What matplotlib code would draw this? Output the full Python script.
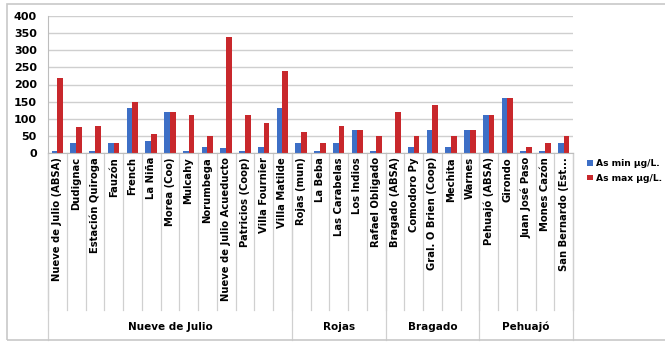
import matplotlib
matplotlib.use("Agg")
import matplotlib.pyplot as plt
import numpy as np
from matplotlib.patches import Rectangle

# Arsenic levels by locality, grouped by district
localities = ["Nueve de Julio (ABSA)", "Dudignac", "Estación Quiroga", "Fauzón", "French",
              "La Niña", "Morea (Coo)", "Mulcahy", "Norumbega", "Nueve de Julio Acueducto",
              "Patricios (Coop)", "Villa Fournier", "Villa Matilde",
              "Rojas (mun)", "La Beba", "Las Carabelas", "Los Indios", "Rafael Obligado",
              "Bragado (ABSA)", "Comodoro Py", "Gral. O Brien (Coop)", "Mechita", "Warnes",
              "Pehuajó (ABSA)", "Girondo", "Juan José Paso", "Mones Cazón", "San Bernardo (Est..."]
as_min = [5, 28, 7, 28, 130, 35, 120, 7, 18, 15, 7, 18, 130,
          28, 7, 28, 68, 7,
          0, 18, 68, 18, 68,
          110, 160, 7, 7, 28]
as_max = [220, 75, 80, 28, 150, 55, 120, 110, 50, 340, 112, 88, 240,
          60, 28, 80, 68, 50,
          120, 50, 140, 50, 68,
          110, 160, 18, 28, 50]
groups = ["Nueve de Julio", "Rojas", "Bragado", "Pehuajó"]
group_sizes = [13, 5, 5, 5]

W, H = 665, 342
fig = plt.figure(figsize=(W / 100, H / 100), dpi=100)
ax = fig.add_axes([48 / W, 1 - 153 / H, 525 / W, 137 / H])

# outer chart border (right side runs off the image)
fig.patches.append(Rectangle((7 / W, 2 / H), 1.1, 336 / H, transform=fig.transFigure,
                             fill=False, edgecolor="#c8c8c8", linewidth=1.2))

x = np.arange(len(localities))
w = 0.31
b1 = ax.bar(x - w / 2, as_min, w, color="#3d6fc6", label="As min µg/L.")
b2 = ax.bar(x + w / 2, as_max, w, color="#c8282c", label="As max µg/L.")

ax.set_xlim(-0.5, len(localities) - 0.5)
ax.set_ylim(0, 400)
ax.set_yticks(range(0, 401, 50))
ax.yaxis.grid(True, color="#cfcfcf", linewidth=1)
ax.set_axisbelow(True)
for s in ["top", "right"]:
    ax.spines[s].set_visible(False)
ax.spines["left"].set_color("#bdbdbd")
ax.spines["bottom"].set_color("#bdbdbd")
ax.tick_params(axis="y", length=0, pad=8)
for t in ax.get_yticklabels():
    t.set_fontweight("bold")
    t.set_fontsize(8)

# category labels and separators (two-level axis)
ax.set_xticks([])
trans = ax.get_xaxis_transform()
for i, name in enumerate(localities):
    ax.text(i, -0.03, name, rotation=90, ha="center", va="top", fontsize=7.2,
            fontweight="bold", transform=trans)
for k in range(len(localities) + 1):
    ax.plot([k - 0.5, k - 0.5], [0, -1.146], transform=trans, clip_on=False,
            color="#d0d0d0", linewidth=0.9)

start = 0
for g, n in zip(groups, group_sizes):
    ax.plot([start - 0.5, start - 0.5], [0, -1.365], transform=trans, clip_on=False,
            color="#d0d0d0", linewidth=0.9)
    ax.text(start + (n - 1) / 2, -1.27, g, ha="center", va="center", fontsize=7.5,
            fontweight="bold", transform=trans)
    start += n
ax.plot([start - 0.5, start - 0.5], [0, -1.365], transform=trans, clip_on=False,
        color="#d0d0d0", linewidth=0.9)

leg = fig.legend(handles=[b1, b2], loc="center left", bbox_to_anchor=(579 / W, 1 - 171 / H),
                 frameon=False, handlelength=0.6, handleheight=0.6, handletextpad=0.4,
                 labelspacing=0.6, prop={"weight": "bold", "size": 6.6})

fig.savefig("out.png", dpi=100)
